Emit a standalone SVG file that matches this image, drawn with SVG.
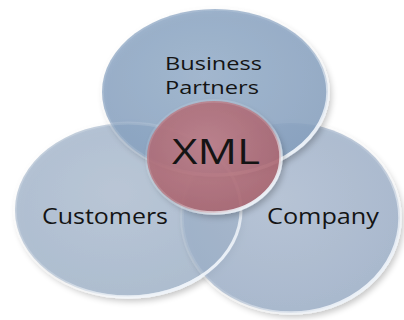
<svg xmlns="http://www.w3.org/2000/svg" width="404" height="320" viewBox="0 0 404 320">
<defs>
<radialGradient id="gTop" cx="0.45" cy="0.4" r="0.65"><stop offset="0" stop-color="#98b0cb"/><stop offset="1" stop-color="#86a0bf"/></radialGradient>
<radialGradient id="gLeft" cx="0.45" cy="0.4" r="0.65"><stop offset="0" stop-color="#bfcad9"/><stop offset="1" stop-color="#aebdd0"/></radialGradient>
<radialGradient id="gRight" cx="0.45" cy="0.4" r="0.65"><stop offset="0" stop-color="#b0bfd3"/><stop offset="1" stop-color="#9fb1c9"/></radialGradient>
<radialGradient id="gXml" cx="0.45" cy="0.4" r="0.65"><stop offset="0" stop-color="#c07e88"/><stop offset="1" stop-color="#a9646f"/></radialGradient>
<linearGradient id="rim" x1="0" y1="0" x2="1" y2="1"><stop offset="0" stop-color="#ffffff" stop-opacity="0.1"/><stop offset="0.55" stop-color="#ffffff" stop-opacity="0.15"/><stop offset="0.85" stop-color="#eef3f9" stop-opacity="0.95"/><stop offset="1" stop-color="#ffffff" stop-opacity="0.6"/></linearGradient>
<filter id="sh" x="-10%" y="-10%" width="130%" height="130%"><feGaussianBlur in="SourceAlpha" stdDeviation="3"/><feOffset dx="2" dy="3"/><feComponentTransfer><feFuncA type="linear" slope="0.25"/></feComponentTransfer><feMerge><feMergeNode/><feMergeNode in="SourceGraphic"/></feMerge></filter>
</defs>
<style>
.c{stroke:url(#rim);stroke-width:3.5}
.t{font-family:"Open Sans","Noto Sans",sans-serif;fill:#141414;text-anchor:middle}
</style>
<rect width="404" height="320" fill="#ffffff"/>
<g id="customers" filter="url(#sh)">
<ellipse class="c" cx="128" cy="210" rx="113" ry="87" fill="url(#gLeft)" fill-opacity="0.9"/>
</g>
<g id="company" filter="url(#sh)">
<ellipse class="c" cx="291" cy="218" rx="109" ry="95" fill="url(#gRight)" fill-opacity="0.85"/>
</g>
<g id="business-partners" filter="url(#sh)">
<ellipse class="c" cx="215" cy="92" rx="113" ry="83" fill="url(#gTop)" fill-opacity="0.85"/>
</g>
<g id="customers-rim">
<ellipse cx="128" cy="210" rx="113" ry="87" fill="#8fa6c2" fill-opacity="0.15" stroke="url(#rim)" stroke-width="3"/>
</g>
<g id="xml" filter="url(#sh)">
<ellipse class="c" cx="214" cy="157" rx="67" ry="56" fill="url(#gXml)" fill-opacity="0.88"/>
</g>
<g id="labels">
<text class="t" x="213.5" y="70" font-size="19" textLength="97" lengthAdjust="spacingAndGlyphs">Business</text>
<text class="t" x="212" y="94" font-size="19" textLength="94" lengthAdjust="spacingAndGlyphs">Partners</text>
<text class="t" x="216" y="164" font-size="34" textLength="88" lengthAdjust="spacingAndGlyphs">XML</text>
<text class="t" x="105" y="224" font-size="22" textLength="126" lengthAdjust="spacingAndGlyphs">Customers</text>
<text class="t" x="323" y="224" font-size="22" textLength="112" lengthAdjust="spacingAndGlyphs">Company</text>
</g>
</svg>
